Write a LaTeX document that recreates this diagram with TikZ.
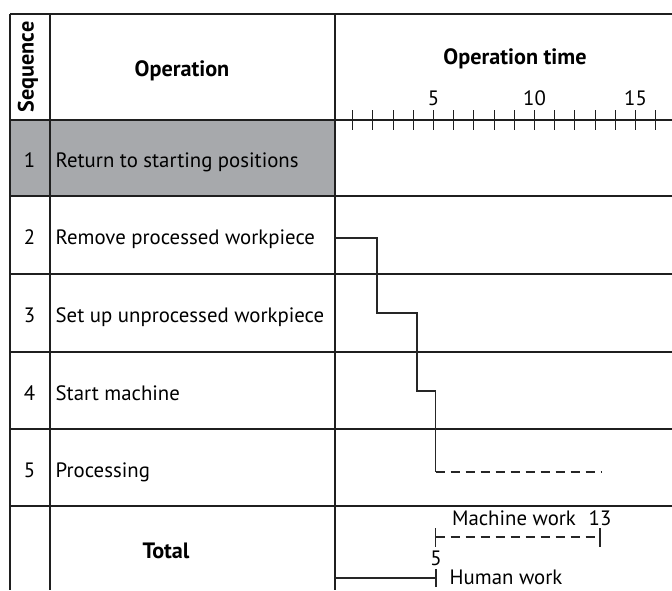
\documentclass[tikz,border=0pt]{standalone}
\usepackage{fontspec}
\setmainfont{PT Sans}
\begin{document}
\begin{tikzpicture}[x=1pt,y=-1pt,
  rule/.style={line width=1.3pt, draw=black!88},
  trace/.style={line width=1.4pt, draw=black!85},
  dashtrace/.style={trace, dash pattern=on 9pt off 6pt},
  txt/.style={inner sep=0pt, anchor=base, font=\fontsize{20.8}{24}\selectfont},
  head/.style={inner sep=0pt, anchor=base, font=\fontsize{22.2}{26}\selectfont\bfseries},
  lbl/.style={txt, anchor=base west}]
\useasboundingbox (0,0) rectangle (672,590);
% shaded first row
\fill[fill={rgb,255:red,167;green,169;blue,172}] (10,120) rectangle (335,196);
% table rules
\draw[rule] (10,14) -- (672,14);
\foreach \yy in {120,196,274,352,429,506} \draw[rule] (10,\yy) -- (672,\yy);
\foreach \xx in {10,50,335} \draw[rule] (\xx,14) -- (\xx,590);
% time axis ticks
\foreach \k in {1,...,16} \draw[rule, line width=1.1pt] ({332.5+20.2*\k},110) -- ({332.5+20.2*\k},130);
% header texts
\node[head, rotate=90, anchor=center] (seq) at (28,67) {Sequence};
\node[head] (op) at (182,76) {Operation};
\node[head] (optime) at (515,64) {Operation time};
\node[txt] (t5) at (433.5,105) {5};
\node[txt] (t10) at (534.5,105) {10};
\node[txt] (t15) at (635.5,105) {15};
% row texts
\node[txt] (n1) at (29.5,167.5) {1};
\node[lbl] (r1) at (55.5,167.5) {Return to starting positions};
\node[txt] (n2) at (29.5,244.5) {2};
\node[lbl] (r2) at (55.5,244.5) {Remove processed workpiece};
\node[txt] (n3) at (29.5,322.5) {3};
\node[lbl] (r3) at (55.5,322.5) {Set up unprocessed workpiece};
\node[txt] (n4) at (29.5,400) {4};
\node[lbl] (r4) at (55.5,400) {Start machine};
\node[txt] (n5) at (29.5,477) {5};
\node[lbl] (r5) at (55.5,477) {Processing};
\node[head] (tot) at (166,558.5) {Total};
% step chart of the operation sequence
\coordinate (a0) at (335,238);
\coordinate (a1) at (377,238);
\coordinate (a2) at (377,313);
\coordinate (a3) at (417,313);
\coordinate (a4) at (417,391);
\coordinate (a5) at (435.5,391);
\coordinate (a6) at (435.5,472);
\coordinate (a7) at (601,472);
\draw[trace] (a0) -- (a1) -- (a2) -- (a3) -- (a4) -- (a5) -- (a6);
\draw[dashtrace] (a6) -- (a7);
% totals: machine work
\coordinate (m0) at (435.5,537);
\coordinate (m1) at (600,537);
\draw[dashtrace] (m0) -- (m1);
\draw[trace] ([yshift=-9.5pt]m0) -- ([yshift=9.5pt]m0);
\draw[trace] ([yshift=-9.5pt]m1) -- ([yshift=9.5pt]m1);
\node[txt] (mw) at (514,525) {Machine work};
\node[txt] (m13) at (600,525) {13};
% totals: human work
\coordinate (h0) at (335,578);
\coordinate (h1) at (436,578);
\draw[trace] (h0) -- (h1);
\draw[trace] ([yshift=-9pt]h1) -- ([yshift=9pt]h1);
\node[txt] (h5) at (436,565) {5};
\node[txt] (hw) at (506,584) {Human work};
\end{tikzpicture}
\end{document}
